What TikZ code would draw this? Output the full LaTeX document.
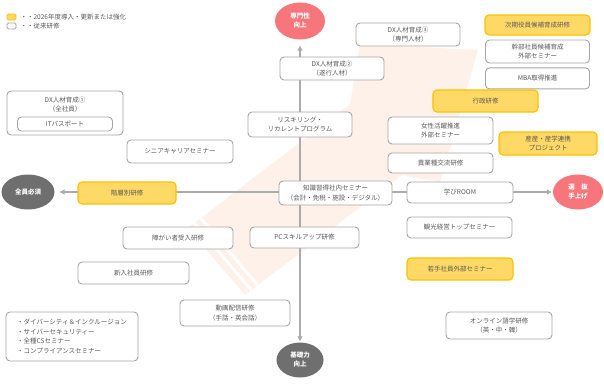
\documentclass[tikz,border=0pt]{standalone}
\usepackage{fontspec}
\setmainfont{Noto Sans CJK JP}
\usetikzlibrary{arrows.meta, positioning, shapes.geometric}

\definecolor{boxline}{HTML}{A6A6A6}
\definecolor{newfill}{HTML}{FFD966}
\definecolor{newline}{HTML}{FFC000}
\definecolor{txtgray}{HTML}{595959}
\definecolor{goalpink}{HTML}{F7767C}
\definecolor{basegray}{HTML}{6F6F6F}
\definecolor{bgarrow}{HTML}{FDF1EA}
\definecolor{axisgray}{HTML}{ABABAB}

\pgfdeclarelayer{deco}
\pgfdeclarelayer{lines}
\pgfsetlayers{deco,lines,main}

\tikzset{
  oldbox/.style={draw=boxline, line width=0.9pt, fill=white, rounded corners=4pt, align=center, inner sep=0pt, text=txtgray},
  newbox/.style={oldbox, draw=newline, line width=1.1pt, fill=newfill},
  goal/.style={ellipse, draw=none, fill=goalpink, text=white, font=\bfseries\fontsize{6.5}{9}\selectfont, align=center, inner sep=0pt},
  base/.style={goal, fill=basegray},
  axisline/.style={draw=axisgray, line width=1.6pt, -{Triangle[length=5pt,width=5pt]}}
}

\begin{document}
\begin{tikzpicture}[x=1pt, y=-1pt, font=\fontsize{6.5}{9.5}\selectfont]
    \useasboundingbox (0,0) rectangle (604,383);

    % legend
    \node[newbox, minimum width=9pt, minimum height=6pt, rounded corners=1.5pt, line width=0.8pt] (keynew) at (11.5,17) {};
    \node[oldbox, minimum width=9pt, minimum height=6pt, rounded corners=1.5pt, line width=0.8pt] (keyold) at (11.5,26) {};
    \node[text=txtgray, inner sep=0pt, right=4pt of keynew] {・・2026年度導入・更新または強化};
    \node[text=txtgray, inner sep=0pt, right=4pt of keyold] {・・従来研修};

    % goals
    \node[goal, minimum width=50pt, minimum height=37pt] (senmon) at (300,21) {専門性\\向上};
    \node[base, minimum width=47pt, minimum height=35pt] (kiso) at (300,360) {基礎力\\向上};
    \node[base, minimum width=53pt, minimum height=35pt] (zenin) at (28,192) {全員必須};
    \node[goal, minimum width=50pt, minimum height=35pt] (senbatsu) at (578,192) {選　抜\\手上げ};
    \coordinate (hub) at (senmon |- zenin);

    % upper right
    \node[oldbox, minimum width=104pt, minimum height=23pt] (dx3) at (408,34.5) {DX人材育成③\\（専門人材）};
    \node[newbox, minimum width=105pt, minimum height=20pt] (jiki) at (537.5,25) {次期役員候補育成研修};
    \node[oldbox, minimum width=104pt, minimum height=23pt, below=4pt of jiki] (kanbu) {幹部社員候補育成\\外部セミナー};
    \node[oldbox, minimum width=104pt, minimum height=21pt, below=4pt of kanbu] (mba) {MBA取得推進};
    \node[oldbox, minimum width=104pt, minimum height=23pt] (dx2) at (332,68.5) {DX人材育成②\\（遂行人材）};
    \node[newbox, minimum width=105pt, minimum height=22pt] (gyosei) at (485.5,101) {行政研修};
    \node[oldbox, minimum width=104pt, minimum height=25pt] (reskill) at (300,124.5) {リスキリング・\\リカレントプログラム};
    \node[oldbox, minimum width=105pt, minimum height=27pt] (josei) at (440.5,130.5) {女性活躍推進\\外部セミナー};
    \node[newbox, minimum width=98pt, minimum height=23pt] (sangaku) at (548,143.5) {産産・産学連携\\プロジェクト};
    \node[oldbox, minimum width=105pt, minimum height=20pt] (igyo) at (440.5,163) {異業種交流研修};

    % middle row
    \node[oldbox, minimum width=116pt, minimum height=44pt] (dx1) at (65,113) {};
    \node[text=txtgray, align=center, inner sep=0pt, below=6pt of dx1.north] (dx1title) {DX人材育成①\\（全社員）};
    \node[oldbox, minimum width=95pt, minimum height=14pt, above=4pt of dx1.south] (itpass) {ITパスポート};
    \node[oldbox, minimum width=106pt, minimum height=23pt] (senior) at (180,151.5) {シニアキャリアセミナー};
    \node[newbox, minimum width=98pt, minimum height=22pt] (kaiso) at (127,193) {階層別研修};
    \node[oldbox, minimum width=113pt, minimum height=24pt] (chishiki) at (335.5,193) {知識習得社内セミナー\\（会計・免税・施設・デジタル）};
    \node[oldbox, minimum width=106pt, minimum height=21pt] (manabi) at (460,192.5) {学びROOM};
    \node[oldbox, minimum width=105pt, minimum height=21pt] (kanko) at (459.5,227.5) {観光経営トップセミナー};

    % lower part
    \node[oldbox, minimum width=110pt, minimum height=22pt] (shogai) at (178,238) {障がい者受入研修};
    \node[oldbox, minimum width=109pt, minimum height=21pt] (pcskill) at (304.5,237.5) {PCスキルアップ研修};
    \node[newbox, minimum width=106pt, minimum height=22pt] (wakate) at (460,269) {若手社員外部セミナー};
    \node[oldbox, minimum width=111pt, minimum height=22pt] (shinnyu) at (133.5,273) {新入社員研修};
    \node[oldbox, minimum width=110pt, minimum height=26pt] (douga) at (235,313) {動画配信研修\\（手話・英会話）};
    \node[oldbox, minimum width=106pt, minimum height=27pt] (gogaku) at (499,325.5) {オンライン語学研修\\（英・中・韓）};
    \node[oldbox, minimum width=132pt, minimum height=49pt, align=left] (compl) at (72,336.5)
        {・ダイバーシティ＆インクルージョン\\・サイバーセキュリティー\\・全種CSセミナー\\・コンプライアンスセミナー};

    % axes
    \begin{pgfonlayer}{lines}
        \draw[axisline, shorten >=6pt] (hub) -- (senmon);
        \draw[axisline, shorten >=1pt] (hub) -- (kiso);
        \draw[axisline, shorten >=5pt] (hub) -- (zenin);
        \draw[axisline, shorten >=1pt] (hub) -- (senbatsu);
    \end{pgfonlayer}

    % big faint arrow behind
    \begin{pgfonlayer}{deco}
        \fill[bgarrow] (188,228) -- (350,104) -- (360,44) -- (478,50) -- (440,182) -- (402,175) -- (245,295) -- cycle;
        \foreach \s in {8,16}
            \draw[white, line width=3pt] (188+0.79*\s, 228-0.615*\s) -- (245+0.79*\s, 295-0.615*\s);
    \end{pgfonlayer}
\end{tikzpicture}
\end{document}
